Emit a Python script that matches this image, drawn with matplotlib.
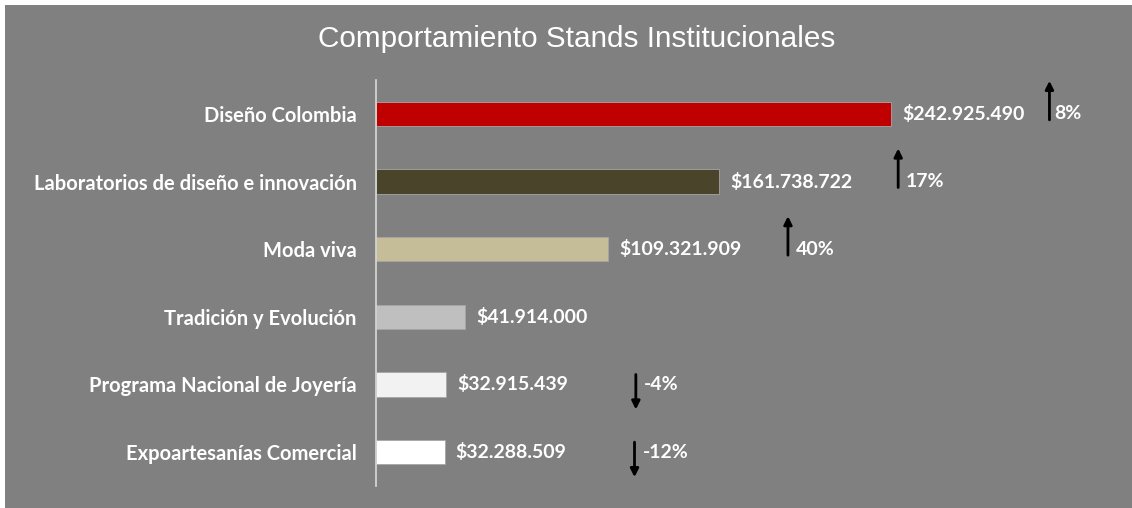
import matplotlib.pyplot as plt
from matplotlib.patches import Rectangle
from matplotlib.transforms import offset_copy

categorias = ['Diseño Colombia', 'Laboratorios de diseño e innovación', 'Moda viva',
              'Tradición y Evolución', 'Programa Nacional de Joyería',
              'Expoartesanías Comercial']
valores = [242925490, 161738722, 109321909, 41914000, 32915439, 32288509]
variacion = [8, 17, 40, None, -4, -12]

colores = ['#C00000', '#4A452A', '#C4BD97', '#BFBFBF', '#F2F2F2', '#FFFFFF']
flecha_dx = [158, 179, 180, 0, 190, 190]  # px from bar end

W, H = 1132, 508
fig = plt.figure(figsize=(W / 100, H / 100), dpi=100)
fig.patch.set_facecolor('white')
fig.add_artist(Rectangle((5 / W, 0), 1 - 5 / W, 1 - 5 / H, transform=fig.transFigure,
                         facecolor='#808080', edgecolor='none', zorder=-10))

ax = fig.add_axes([376 / W, 1 - 486 / H, (1125 - 376) / W, (486 - 80) / H])
ax.set_zorder(2)
ax.patch.set_alpha(0)

y = list(range(len(categorias)))
ax.barh(y, valores, height=0.36, color=colores, edgecolor='#A6A6A6', linewidth=0.6)
ax.set_ylim(len(categorias) - 0.5, -0.5)
ax.set_xlim(0, 353e6)

for s in ['top', 'right', 'bottom']:
    ax.spines[s].set_visible(False)
ax.spines['left'].set_color('#D9D9D9')
ax.spines['left'].set_linewidth(1.2)
ax.set_xticks([])
ax.set_yticks(y)
ax.set_yticklabels(categorias, fontsize=14.5, fontweight='bold', color='white', family='Lato')
ax.tick_params(axis='y', length=0, pad=14)

def fmt(v):
    return '$' + f'{v:,}'.replace(',', '.')

for i, v in enumerate(valores):
    ax.annotate(fmt(v), (v, i), xytext=(11, 0), textcoords='offset pixels',
                ha='left', va='center', fontsize=14, fontweight='bold',
                color='white', family='Lato')

for i, (v, p) in enumerate(zip(valores, variacion)):
    if p is None:
        continue
    dx = flecha_dx[i]
    if p > 0:
        y0, y1 = -6, 33
        tx = 5 if i == 0 else 8
    else:
        y0, y1 = 10, -25
        tx = 8
    t0 = offset_copy(ax.transData, fig=fig, x=dx, y=y0, units='dots')
    t1 = offset_copy(ax.transData, fig=fig, x=dx, y=y1, units='dots')
    ax.annotate('', xy=(v, i), xycoords=t1, xytext=(v, i), textcoords=t0,
                arrowprops=dict(arrowstyle='-|>', color='black', lw=2,
                                mutation_scale=12, shrinkA=0, shrinkB=0))
    tt = offset_copy(ax.transData, fig=fig, x=dx + tx, y=0, units='dots')
    ax.text(v, i, f'{p}%', transform=tt, ha='left', va='center', fontsize=14,
            fontweight='bold', color='white', family='Lato')

fig.text(577 / W, 1 - 39 / H, 'Comportamiento Stands Institucionales', ha='center',
         va='center', fontsize=21.4, color='white', family='Liberation Sans')

fig.savefig('out.png', dpi=100, facecolor=fig.get_facecolor())
